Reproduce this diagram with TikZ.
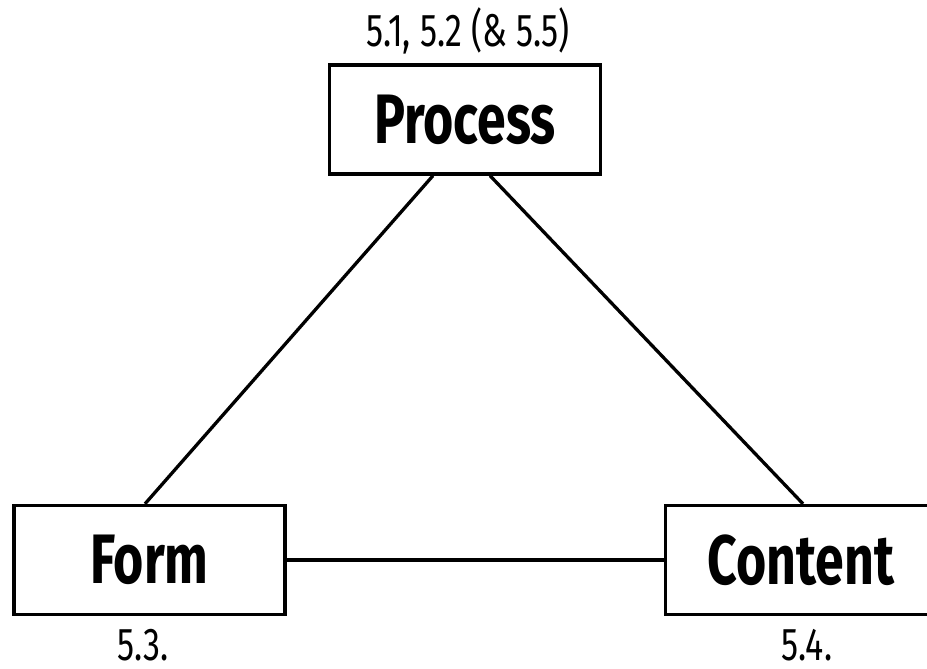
\documentclass[tikz,border=0pt]{standalone}
\usepackage{fontspec}
\setmainfont{Fira Sans}[FakeStretch=0.74]
\usetikzlibrary{calc,positioning}

\tikzset{
  corner/.style={draw,line width=3.3pt,minimum width=271pt,minimum height=109pt,
    inner sep=0pt,font=\fontsize{70}{70}\selectfont\bfseries},
  sect/.style={font=\fontsize{46}{46}\selectfont,inner sep=0pt,anchor=base},
  link/.style={line width=3.3pt}
}

\begin{document}
\begin{tikzpicture}[x=1pt,y=1pt]
\clip (0,0) rectangle (927,669);
% the three corners
\node[corner] (proc) at (465,549.5) {Process};
\node[corner] (form) at (149.5,109) {Form};
\node[corner] (cont) at (801,109) {Content};
% section numbers
\node[sect] (procsec) at (468,622) {5.1, 5.2 (\& 5.5)};
\node[sect] (formsec) at (143,8) {5.3.};
\node[sect] (contsec) at (807,8) {5.4.};
% sides of the triangle
\draw[link] ($(proc.south)+(-32,0)$) -- ($(form.north)+(-4.5,0)$);
\draw[link] ($(proc.south)+(25,0)$) -- ($(cont.north)+(2,0)$);
\draw[link] (form.east) -- (cont.west);
\end{tikzpicture}
\end{document}
